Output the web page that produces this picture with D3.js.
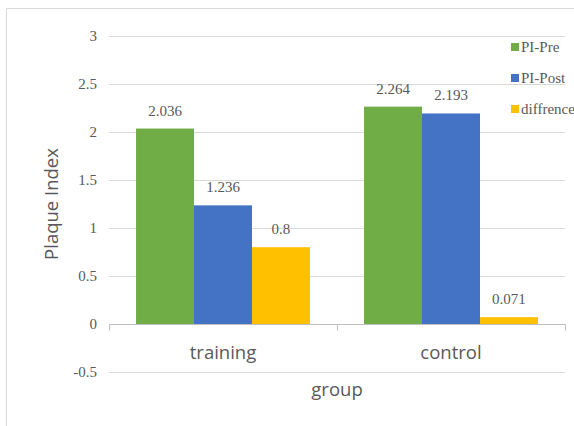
<!DOCTYPE html>
<html>
<head>
<meta charset="utf-8">
<script src="https://cdn.jsdelivr.net/npm/d3@7"></script>
<style>
  body { margin: 0; background: #fff; }
  svg { display: block; }
  .serif { font-family: "Times New Roman", "Liberation Serif", Times, serif; font-size: 15px; fill: #595959; }
  .sans { font-family: "Open Sans", sans-serif; font-size: 18.5px; fill: #595959; }
</style>
</head>
<body>
<div class="container"></div>
<script>
const groups = ['training', 'control'];
const seriesNames = ['PI-Pre', 'PI-Post', 'diffrence'];
const piPre = [2.036, 2.264];
const piPost = [1.236, 2.193];
const diffrence = [0.8, 0.071];
const labels = [['2.036', '1.236', '0.8'], ['2.264', '2.193', '0.071']];
const yTicks = [-0.5, 0, 0.5, 1, 1.5, 2, 2.5, 3];
const colors = ['#70AD47', '#4472C4', '#FFC000'];

const width = 574;
const height = 426;
const plotLeft = 109, plotRight = 565, plotTop = 36, plotBottom = 372;

const svg = d3.select('.container')
  .append('svg')
  .attr('width', width)
  .attr('height', height);

// chart frame (cropped at right/bottom)
svg.append('path')
  .attr('d', `M6.5,${height} V8.5 H${width}`)
  .attr('fill', 'none')
  .attr('stroke', '#d9d9d9');

const y = d3.scaleLinear().domain([-0.5, 3]).range([plotBottom, plotTop]);
const x0 = d3.scaleBand().domain(groups).range([plotLeft, plotRight]).paddingInner(0).paddingOuter(0);
const x1 = d3.scaleBand().domain(seriesNames).range([0, x0.bandwidth()]).paddingOuter(0.466).paddingInner(0);

// gridlines
svg.append('g')
  .selectAll('line')
  .data(yTicks.filter(d => d !== 0))
  .join('line')
  .attr('x1', plotLeft).attr('x2', plotRight)
  .attr('y1', d => Math.round(y(d)) + 0.5)
  .attr('y2', d => Math.round(y(d)) + 0.5)
  .attr('stroke', '#d9d9d9');

// y tick labels
svg.append('g')
  .selectAll('text')
  .data(yTicks)
  .join('text')
  .attr('class', 'serif')
  .attr('x', 97)
  .attr('y', d => y(d) + 5)
  .attr('text-anchor', 'end')
  .text(d => d);

// bars
const rows = groups.map((g, i) => ({ group: g, values: [piPre[i], piPost[i], diffrence[i]] }));
const gGroups = svg.append('g')
  .selectAll('g')
  .data(rows)
  .join('g')
  .attr('transform', d => `translate(${x0(d.group)},0)`);

gGroups.selectAll('rect')
  .data(d => d.values.map((v, j) => ({ name: seriesNames[j], v, j })))
  .join('rect')
  .attr('x', d => x1(d.name))
  .attr('width', x1.bandwidth())
  .attr('y', d => y(d.v))
  .attr('height', d => y(0) - y(d.v))
  .attr('fill', d => colors[d.j]);

gGroups.selectAll('text')
  .data((d, i) => d.values.map((v, j) => ({ name: seriesNames[j], v, label: labels[i][j] })))
  .join('text')
  .attr('class', 'serif')
  .attr('x', d => x1(d.name) + x1.bandwidth() / 2)
  .attr('y', d => y(d.v) - 13)
  .attr('text-anchor', 'middle')
  .text(d => d.label);

// zero axis line with category ticks
const zy = Math.round(y(0)) + 0.5;
svg.append('line')
  .attr('x1', plotLeft).attr('x2', plotRight)
  .attr('y1', zy).attr('y2', zy)
  .attr('stroke', '#bfbfbf');
svg.append('g')
  .selectAll('line')
  .data([plotLeft, x0('control'), plotRight])
  .join('line')
  .attr('x1', d => Math.round(d) + 0.5).attr('x2', d => Math.round(d) + 0.5)
  .attr('y1', zy).attr('y2', zy + 6)
  .attr('stroke', '#bfbfbf');

// category labels
svg.append('g')
  .selectAll('text')
  .data(groups)
  .join('text')
  .attr('class', 'sans')
  .attr('x', d => x0(d) + x0.bandwidth() / 2)
  .attr('y', 359)
  .attr('text-anchor', 'middle')
  .text(d => d);

// axis titles
svg.append('text')
  .attr('class', 'sans')
  .attr('x', (plotLeft + plotRight) / 2)
  .attr('y', 396)
  .attr('text-anchor', 'middle')
  .text('group');

svg.append('text')
  .attr('class', 'sans')
  .attr('transform', `translate(58,${(plotTop + plotBottom) / 2}) rotate(-90)`)
  .attr('text-anchor', 'middle')
  .text('Plaque Index');

// legend
const legend = svg.append('g')
  .selectAll('g')
  .data(seriesNames)
  .join('g')
  .attr('transform', (d, i) => `translate(511,${43 + i * 31})`);
legend.append('rect')
  .attr('width', 8).attr('height', 8)
  .attr('fill', (d, i) => colors[i]);
legend.append('text')
  .attr('class', 'serif')
  .attr('x', 10)
  .attr('y', 9)
  .text(d => d);
</script>
</body>
</html>
